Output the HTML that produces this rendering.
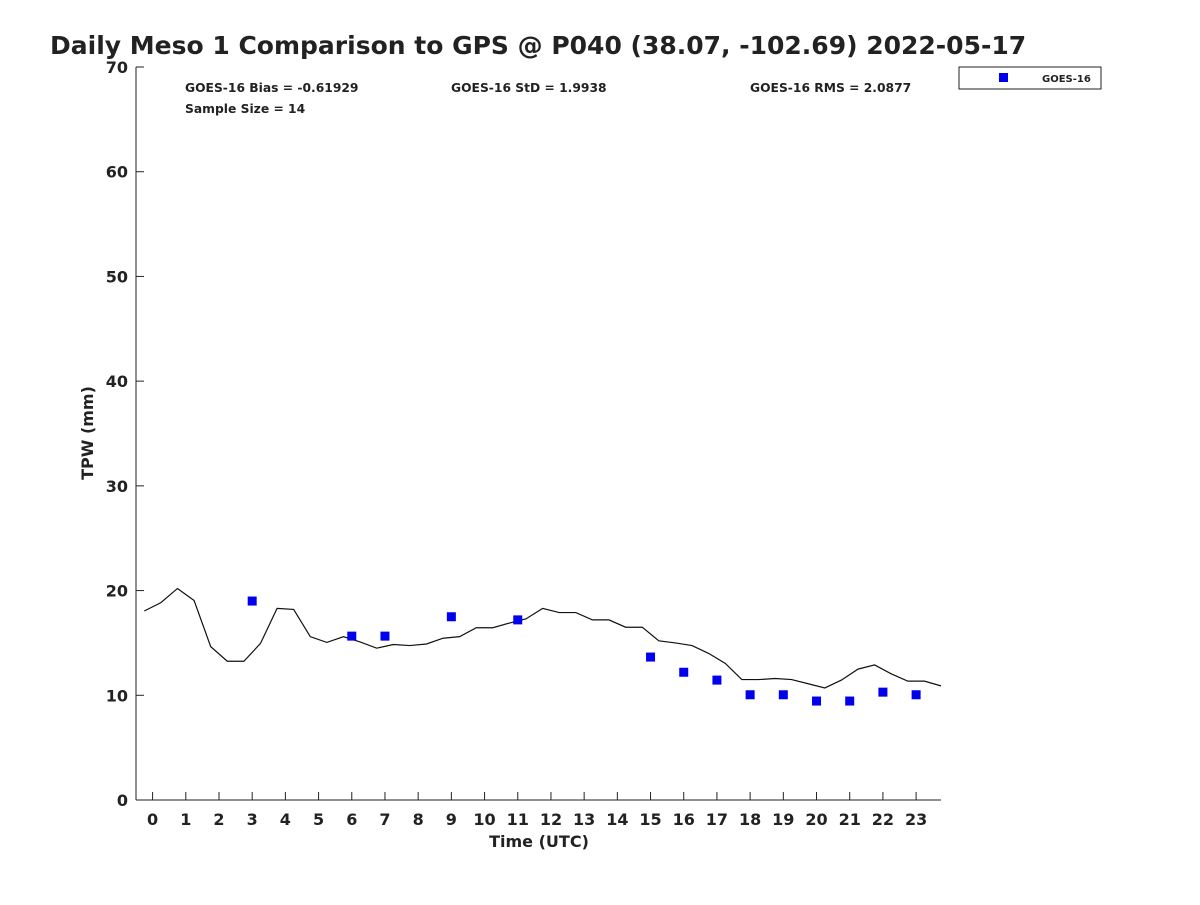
<!DOCTYPE html>
<html><head><meta charset="utf-8"><style>
body{margin:0;background:#fff;}
svg text{font-family:"DejaVu Sans","Liberation Sans",sans-serif;font-weight:bold;fill:#222;}
</style></head><body>
<svg id="c" width="1200" height="900" xmlns="http://www.w3.org/2000/svg">
<text x="50" y="54" font-size="25">Daily Meso 1 Comparison to GPS @ P040 (38.07, -102.69) 2022-05-17</text>
<g id="axes"></g>
<g id="series"></g>
<text x="185" y="92" font-size="12.3">GOES-16 Bias = -0.61929</text>
<text x="185" y="113" font-size="12.3">Sample Size = 14</text>
<text x="451" y="92" font-size="12.3">GOES-16 StD = 1.9938</text>
<text x="750" y="92" font-size="12.3">GOES-16 RMS = 2.0877</text>
<g>
<rect x="959" y="67" width="142" height="22" fill="#fff" stroke="#222" stroke-width="1"/>
<rect x="999" y="73" width="9" height="9" fill="#0000ee"/>
<text x="1042" y="82" font-size="10">GOES-16</text>
</g>
<text x="539" y="847" font-size="16" text-anchor="middle">Time (UTC)</text>
<text transform="translate(93,433) rotate(-90)" font-size="16" text-anchor="middle">TPW (mm)</text>
</svg>
<script>
const gpsTimes=[-0.25,0.25,0.75,1.25,1.75,2.25,2.75,3.25,3.75,4.25,4.75,5.25,5.75,6.25,6.75,7.25,7.75,8.25,8.75,9.25,9.75,10.25,10.75,11.25,11.75,12.25,12.75,13.25,13.75,14.25,14.75,15.25,15.75,16.25,16.75,17.25,17.75,18.25,18.75,19.25,19.75,20.25,20.75,21.25,21.75,22.25,22.75,23.25,23.75];
const gpsValues=[18.05,18.85,20.2,19.05,14.65,13.25,13.25,14.95,18.3,18.2,15.6,15.05,15.6,15.1,14.5,14.85,14.75,14.9,15.45,15.6,16.45,16.45,16.9,17.3,18.3,17.9,17.9,17.2,17.2,16.5,16.5,15.2,15.0,14.75,14.0,13.05,11.5,11.5,11.6,11.5,11.1,10.7,11.45,12.5,12.9,12.05,11.35,11.35,10.9];
const goesHours=[3,6,7,9,11,15,16,17,18,19,20,21,22,23];
const goesValues=[19.0,15.65,15.65,17.5,17.2,13.65,12.2,11.45,10.05,10.05,9.45,9.45,10.3,10.05];
const xTicks=[0,1,2,3,4,5,6,7,8,9,10,11,12,13,14,15,16,17,18,19,20,21,22,23];
const yTicks=[0,10,20,30,40,50,60,70];
const X0=136,X1=941,Y0=800,Y1=67,xmin=-0.5,xmax=23.75,ymin=0,ymax=70;
const xs=v=>X0+(v-xmin)/(xmax-xmin)*(X1-X0);
const ys=v=>Y0-(v-ymin)/(ymax-ymin)*(Y0-Y1);
const NS="http://www.w3.org/2000/svg";
function mk(tag,attrs,parent){const e=document.createElementNS(NS,tag);for(const k in attrs)e.setAttribute(k,attrs[k]);parent.appendChild(e);return e;}
const ax=document.getElementById('axes'),sr=document.getElementById('series');
let l=mk('line',{x1:X0,y1:Y1,x2:X0,y2:Y0,stroke:'#222','stroke-width':1},ax);


l=mk('line',{x1:X0,y1:Y0,x2:X1,y2:Y0,stroke:'#222','stroke-width':1},ax);


yTicks.forEach(v=>{const y=ys(v);mk('line',{x1:X0,y1:y,x2:X0+8,y2:y,stroke:'#222'},ax);
const t=mk('text',{x:X0-8,y:y+6,'font-size':16,'text-anchor':'end'},ax);t.textContent=v;

});
xTicks.forEach(v=>{const x=xs(v);mk('line',{x1:x,y1:Y0,x2:x,y2:Y0-8,stroke:'#222'},ax);
const t=mk('text',{x:x,y:Y0+25,'font-size':16,'text-anchor':'middle'},ax);t.textContent=v;

});
const p=mk('polyline',{points:gpsTimes.map((t,i)=>xs(t)+','+ys(gpsValues[i])).join(' '),fill:'none',stroke:'#111','stroke-width':1.2},sr);


goesHours.forEach((h,i)=>{const r=mk('rect',{x:xs(h)-4.5,y:ys(goesValues[i])-4.5,width:9,height:9,fill:'#0000ee'},sr);

});
</script>
</body></html>
